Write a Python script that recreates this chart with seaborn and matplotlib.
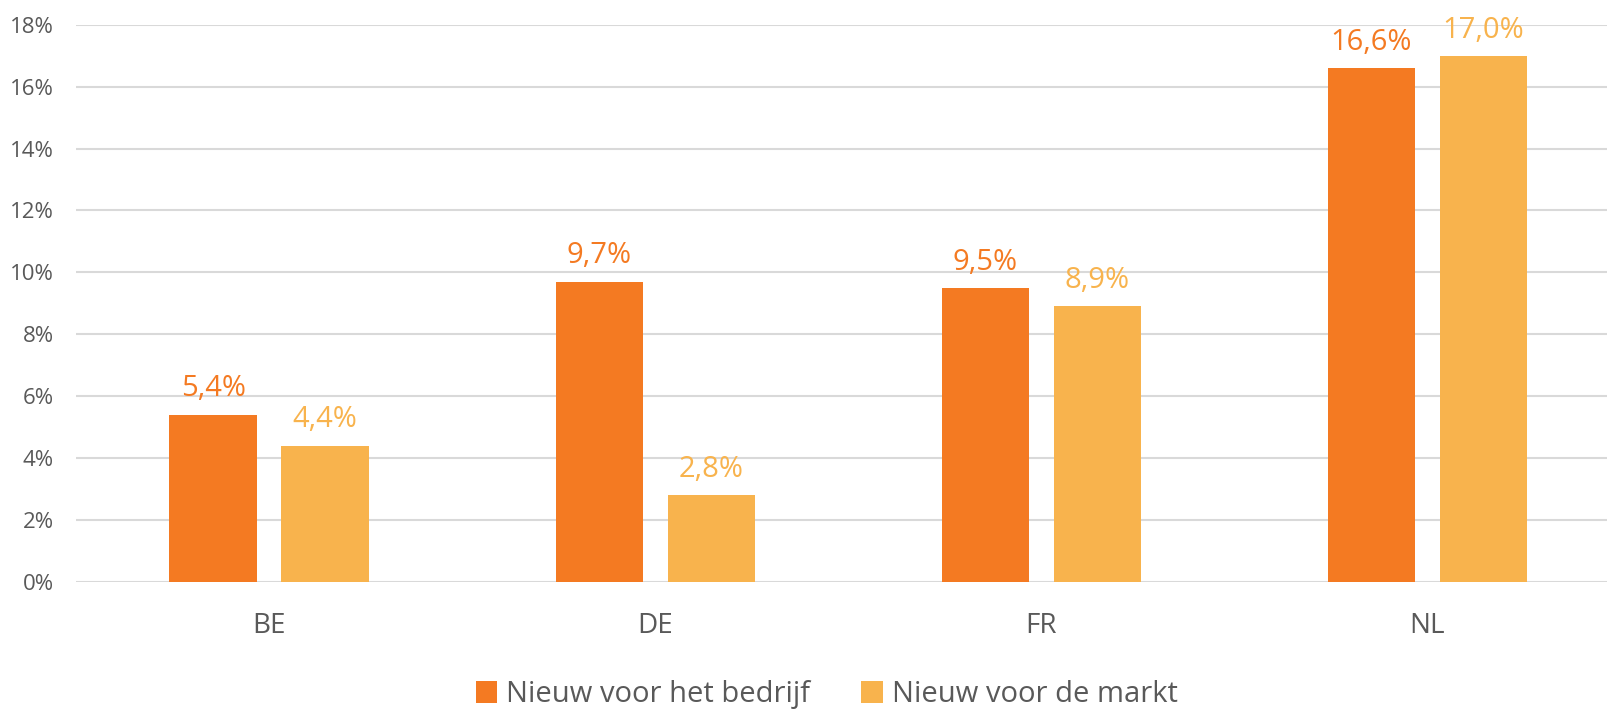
import matplotlib
matplotlib.use("Agg")
import matplotlib.pyplot as plt
import seaborn as sns
import pandas as pd
from matplotlib.ticker import FuncFormatter

categories = ["BE", "DE", "FR", "NL"]
series_names = ["Nieuw voor het bedrijf", "Nieuw voor de markt"]
bedrijf = [5.4, 9.7, 9.5, 16.6]
markt = [4.4, 2.8, 8.9, 17.0]
yticks = [0, 2, 4, 6, 8, 10, 12, 14, 16, 18]

colors = ["#F47A22", "#F8B34D"]
text_gray = "#595959"

rows = []
for c, v in zip(categories, bedrijf):
    rows.append({"land": c, "reeks": series_names[0], "waarde": v})
for c, v in zip(categories, markt):
    rows.append({"land": c, "reeks": series_names[1], "waarde": v})
df = pd.DataFrame(rows)

sns.set_theme(style="white")
plt.rcParams["font.family"] = ["Open Sans", "DejaVu Sans"]

fig = plt.figure(figsize=(16.08, 7.11), dpi=100)
ax = fig.add_axes([0.0473, 0.182, 0.9605, 0.783])

sns.barplot(data=df, x="land", y="waarde", hue="reeks", palette=colors,
            width=0.58, gap=0.22, ax=ax, errorbar=None, saturation=1,
            linewidth=0, zorder=3)

ax.set_ylim(0, 18)
ax.set_yticks(yticks)
ax.yaxis.set_major_formatter(FuncFormatter(lambda v, p: f"{int(v)}%"))
ax.set_xlim(-0.5, 3.5)
ax.grid(axis="y", color="#D9D9D9", linewidth=1.5, zorder=0)
ax.set_axisbelow(True)
for s in ax.spines.values():
    s.set_visible(False)
ax.tick_params(axis="both", length=0)
ax.tick_params(axis="y", labelsize=16, labelcolor=text_gray, pad=16)
ax.tick_params(axis="x", labelsize=20, labelcolor=text_gray, pad=22)
ax.set_xlabel("")
ax.set_ylabel("")

for cont, col in zip(ax.containers, colors):
    labels = [f"{v:.1f}".replace(".", ",") + "%" for v in cont.datavalues]
    ax.bar_label(cont, labels=labels, padding=8, color=col, fontsize=21)

handles, labels = ax.get_legend_handles_labels()
ax.legend(handles, labels, loc="upper center", bbox_to_anchor=(0.486, -0.13),
          ncol=2, frameon=False, fontsize=21, labelcolor=text_gray,
          handlelength=0.75, handleheight=0.75, handletextpad=0.3,
          columnspacing=1.75)

fig.savefig("out.png", dpi=100)
